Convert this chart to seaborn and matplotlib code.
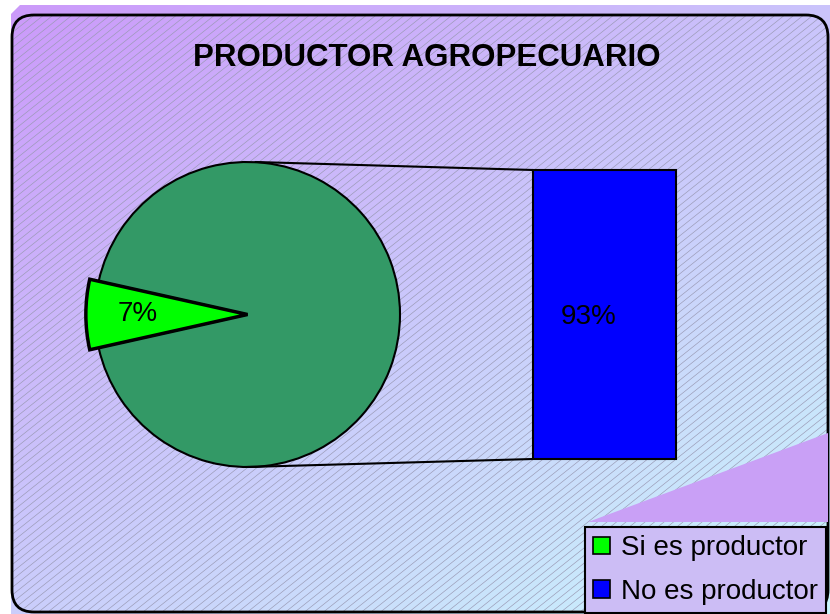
import matplotlib
matplotlib.use('Agg')
import numpy as np
import matplotlib.pyplot as plt
import seaborn as sns
from matplotlib.patches import Polygon, FancyBboxPatch, Patch
from matplotlib.collections import LineCollection

sns.set_theme(style="white")
plt.rcParams['font.family'] = ['Liberation Sans', 'DejaVu Sans']
plt.rcParams['text.color'] = 'black'

# data
title = "PRODUCTOR AGROPECUARIO"
labels = ["Si es productor", "No es productor"]
values = [7, 93]
pie_colors = ["#00FF00", "#339966"]
bar_cats = ["No es productor"]
bar_vals = [93]
legend_colors = ["#00FF00", "#0000FF"]

W, H = 830, 614
fig = plt.figure(figsize=(W / 100, H / 100), dpi=100)
ax = fig.add_axes([0, 0, 1, 1])

# gradient background (purple -> light cyan)
yy, xx = np.mgrid[0:H, 0:W]
t = xx / W * 0.45 + yy / H * 0.55
c0 = np.array([0.80, 0.60, 0.98])
c1 = np.array([0.79, 0.97, 0.99])
img = c0 + (c1 - c0) * t[..., None]
outer = Polygon([(11, 614), (11, 14), (20, 5), (830, 5), (830, 614)], closed=True,
                facecolor='none', edgecolor='none')
ax.add_patch(outer)
im = ax.imshow(img, extent=[0, W, H, 0], zorder=0)
im.set_clip_path(outer)

# thin diagonal hatch inside the rounded border
frame_box = FancyBboxPatch((12, 15), 816, 597, boxstyle="round,pad=0,rounding_size=22",
                           facecolor='none', edgecolor='black', linewidth=2, zorder=0.6)
ax.add_patch(frame_box)
slope = 0.8
segs = [[(x0, H), (x0 + H / slope, 0)] for x0 in np.arange(-800, W + 10, 9.5)]
hatch = LineCollection(segs, colors=[(0.6, 0.6, 0.7)], linewidths=0.45, zorder=0.5)
ax.add_collection(hatch)
hatch.set_clip_path(frame_box)

# odd purple triangle in the bottom right
ax.add_patch(Polygon([(588, 522), (828, 433), (828, 522)], closed=True,
                     facecolor='#C9A0F6', edgecolor='none', zorder=0.7))

ax.text(427, 58, title, ha='center', va='center', fontsize=22.5, fontweight='bold')

# pie
cx, cy, r = 247.5, 314.5, 152.5
start = 180 - values[0] / sum(values) * 360 / 2
wedges, texts, autotexts = ax.pie(
    values, colors=pie_colors, startangle=start, center=(cx, cy), radius=r,
    autopct=lambda p: f"{p:.0f}%" if p < 50 else "", pctdistance=0.72,
    wedgeprops=dict(edgecolor='black', linewidth=1.5),
    textprops=dict(fontsize=20, color='black'))
wedges[0].set_radius(r * 1.06)
wedges[0].set_linewidth(2.5)
wedges[0].set_zorder(3)
for tx in autotexts:
    tx.set_zorder(4)

# connector lines
bx0, bx1, by0, by1 = 533, 676, 170, 459
ax.plot([cx + 8, bx0], [cy - r, by0], color='black', lw=1.5, zorder=2)
ax.plot([cx, bx0], [cy + r, by1], color='black', lw=1.5, zorder=2)

ax.set_xlim(0, W)
ax.set_ylim(H, 0)
ax.set_aspect('auto')
ax.axis('off')

# bar of the pie
bax = fig.add_axes([bx0 / W, 1 - by1 / H, (bx1 - bx0) / W, (by1 - by0) / H])
sns.barplot(x=bar_cats, y=bar_vals, color=legend_colors[1], saturation=1, width=1.0,
            edgecolor='black', linewidth=1.5, ax=bax)
bax.set_xlim(-0.5, 0.5)
bax.set_ylim(0, bar_vals[0])
bax.axis('off')
for p in bax.patches:
    p.set_clip_on(False)
bax.text(-0.5 + 56 / (bx1 - bx0), bar_vals[0] * 0.49, f"{bar_vals[0]}%",
         ha='center', va='center', fontsize=20, color='black')

# legend
handles = [Patch(facecolor=c, edgecolor='black', linewidth=1.2) for c in legend_colors]
leg = ax.legend(handles, labels, loc='lower right', bbox_to_anchor=(826 / W, 1 / H),
                bbox_transform=fig.transFigure, fontsize=20, frameon=True, fancybox=False,
                edgecolor='black', facecolor=(0.80, 0.74, 0.96), framealpha=1,
                handlelength=0.6, handleheight=0.6, handletextpad=0.4,
                borderpad=0.3, labelspacing=0.62, borderaxespad=0)
leg.get_frame().set_linewidth(1.5)
for tx in leg.get_texts():
    tx.set_color('black')

fig.savefig('out.png', dpi=100)
